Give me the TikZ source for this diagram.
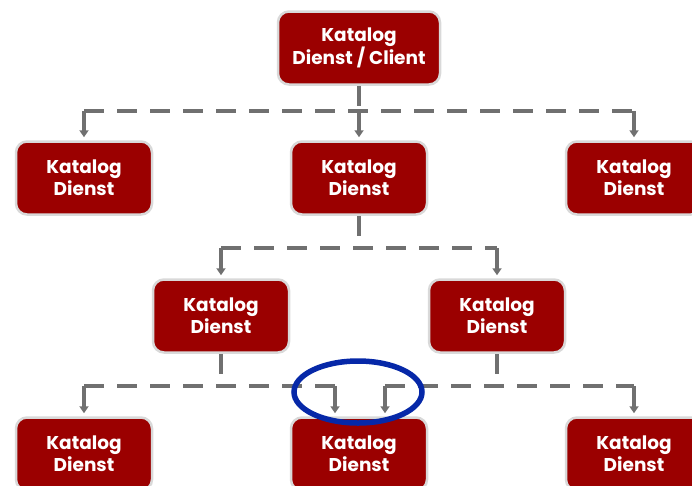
\documentclass[tikz,border=0pt]{standalone}
\usepackage{fontspec}
\setmainfont{Poppins}
\usetikzlibrary{arrows.meta,calc}
\definecolor{boxred}{HTML}{9B0000}
\definecolor{linegray}{HTML}{707070}
\definecolor{ringblue}{HTML}{0628A8}
\begin{document}
\begin{tikzpicture}[x=1pt,y=-1pt,
  box/.style={rectangle, rounded corners=11pt, fill=boxred, draw=gray!30, line width=2.5pt,
    minimum width=136pt, minimum height=73pt, text=white, align=center,
    font=\fontsize{18.5}{22}\selectfont\bfseries, inner sep=0pt},
  conn/.style={draw=linegray, line width=3.5pt, dash pattern=on 20pt off 13pt},
  arr/.style={draw=linegray, line width=3.5pt, -{Triangle[length=7pt,width=9pt]}, shorten >=3pt}]
\useasboundingbox (0,0) rectangle (692,485);
\clip (0,0) rectangle (692,485);
\node[box, minimum width=162pt] (top) at (359,48) {Katalog\\Dienst / Client};
\node[box] (a1) at (84,178) {Katalog\\Dienst};
\node[box] (a2) at (359,178) {Katalog\\Dienst};
\node[box] (a3) at (634,178) {Katalog\\Dienst};
\node[box] (b1) at (221,316) {Katalog\\Dienst};
\node[box] (b2) at (497,316) {Katalog\\Dienst};
\node[box] (c1) at (84,454) {Katalog\\Dienst};
\node[box] (c2) at (359,454) {Katalog\\Dienst};
\node[box] (c3) at (634,454) {Katalog\\Dienst};
% level 1
\coordinate (j1) at (359,111);
\draw[conn] (top.south) -- (j1);
\draw[conn] (a1 |- j1) -- (a3 |- j1);
\draw[arr] (a1 |- j1) -- (a1.north);
\draw[arr] (j1) -- (a2.north);
\draw[arr] (a3 |- j1) -- (a3.north);
% level 2
\coordinate (j2) at (359,248);
\draw[conn] (a2.south) -- (j2);
\draw[conn] (b1 |- j2) -- (b2 |- j2);
\draw[arr] (b1 |- j2) -- (b1.north);
\draw[arr] (b2 |- j2) -- (b2.north);
% level 3
\coordinate (j3) at (221,386);
\coordinate (j4) at (497,386);
\coordinate (l3) at (335,386);
\coordinate (r3) at (385,386);
\draw[conn] (b1.south) -- (j3);
\draw[conn] (c1 |- j3) -- (l3);
\draw[arr] (c1 |- j3) -- (c1.north);
\draw[arr] (l3) -- (l3 |- c2.north);
\draw[conn] (b2.south) -- (j4);
\draw[conn] (r3) -- (c3 |- j4);
\draw[arr] (r3) -- (r3 |- c2.north);
\draw[arr] (c3 |- j4) -- (c3.north);
% highlight ring
\draw[ringblue, line width=5.5pt] (358,392) ellipse [x radius=64pt, y radius=31pt];
\end{tikzpicture}
\end{document}
